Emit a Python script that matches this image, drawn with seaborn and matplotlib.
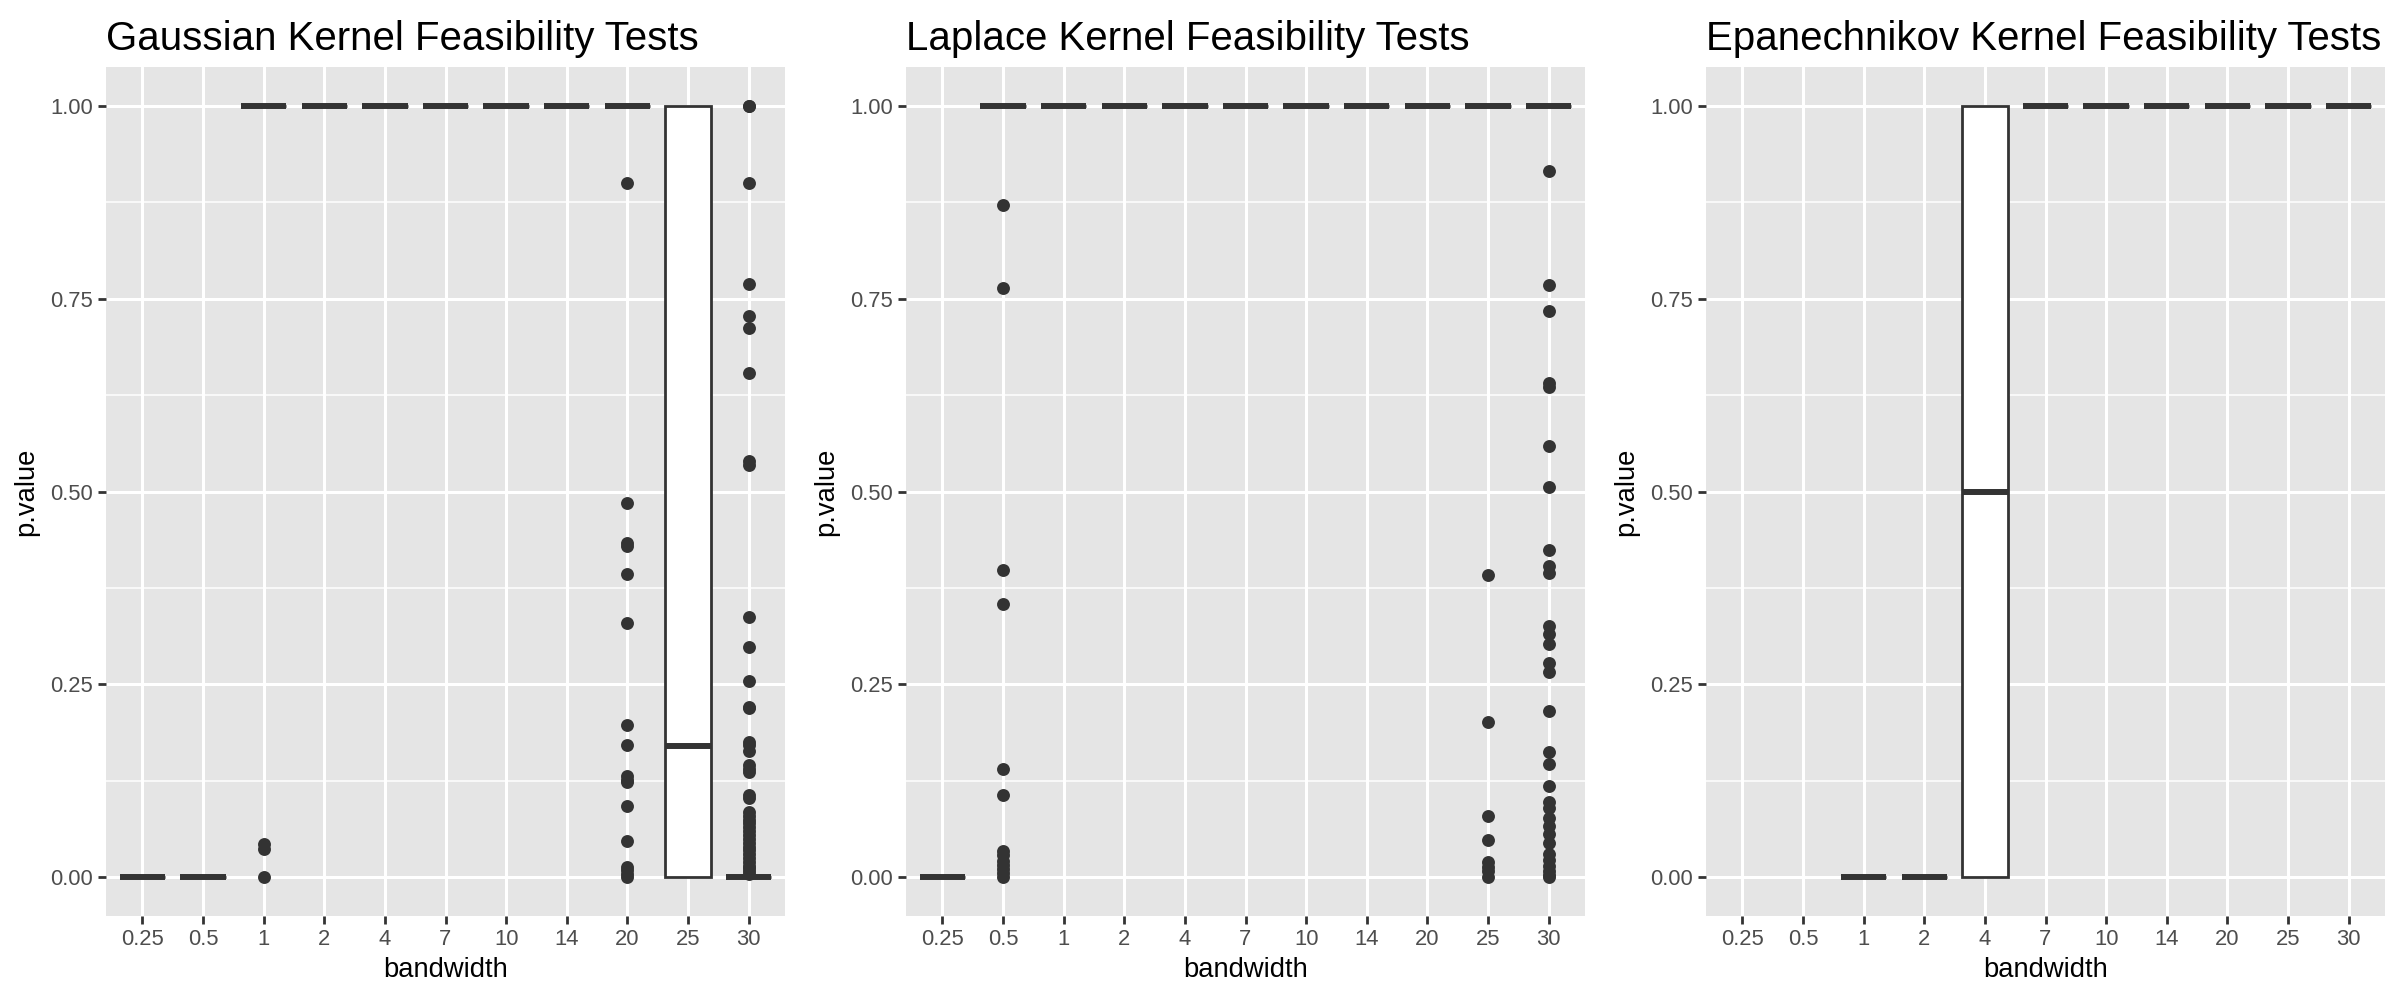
import numpy as np
import pandas as pd
import matplotlib
matplotlib.use("Agg")
import matplotlib.pyplot as plt
import seaborn as sns

# bandwidth levels (shared by all three kernels)
bandwidths = ["0.25", "0.5", "1", "2", "4", "7", "10", "14", "20", "25", "30"]
n_bulk = 150  # runs per bandwidth that sit on the typical p-value

# Gaussian kernel: value where most runs land (None = spread box)
gauss_bulk = [0.0, 0.0, 1.0, 1.0, 1.0, 1.0, 1.0, 1.0, 1.0, None, 0.0]
gauss_out_1 = [0.0, 0.037, 0.043]
gauss_out_20 = [0.900, 0.485, 0.433, 0.429, 0.393, 0.330, 0.198, 0.171, 0.131,
                0.126, 0.123, 0.092, 0.047, 0.014, 0.010, 0.004, 0.0]
gauss_out_30 = [1.0, 1.0, 0.900, 0.769, 0.727, 0.712, 0.653, 0.539, 0.534, 0.338,
                0.298, 0.254, 0.221, 0.219, 0.176, 0.171, 0.164, 0.146, 0.141, 0.136,
                0.107, 0.103, 0.085, 0.080, 0.075, 0.070, 0.065, 0.060, 0.055, 0.050,
                0.045, 0.040, 0.035, 0.030, 0.025, 0.020, 0.015, 0.012, 0.008, 0.005]
gauss_spread_25 = [0.0] * 6 + [0.17] + [1.0] * 6

# Laplace kernel
laplace_bulk = [0.0, 1.0, 1.0, 1.0, 1.0, 1.0, 1.0, 1.0, 1.0, 1.0, 1.0]
laplace_out_05 = [0.871, 0.764, 0.398, 0.354, 0.141, 0.107, 0.034, 0.029, 0.021,
                  0.016, 0.011, 0.006, 0.0]
laplace_out_25 = [0.392, 0.201, 0.079, 0.049, 0.020, 0.013, 0.008, 0.0]
laplace_out_30 = [0.915, 0.767, 0.734, 0.641, 0.635, 0.559, 0.506, 0.424, 0.404,
                  0.395, 0.326, 0.315, 0.303, 0.278, 0.266, 0.215, 0.162, 0.147,
                  0.118, 0.098, 0.090, 0.077, 0.066, 0.056, 0.045, 0.030, 0.022,
                  0.015, 0.008, 0.003, 0.0]

# Epanechnikov kernel (no results for 0.25 and 0.5)
epan_bulk = [None, None, 0.0, 0.0, None, 1.0, 1.0, 1.0, 1.0, 1.0, 1.0]
epan_spread_4 = [0.0] * 6 + [1.0] * 6

titles = ["Gaussian Kernel Feasibility Tests",
          "Laplace Kernel Feasibility Tests",
          "Epanechnikov Kernel Feasibility Tests"]


def build(bulk, extra):
    rows = []
    for bw, b in zip(bandwidths, bulk):
        if b is not None:
            rows += [(bw, b)] * n_bulk
        for v in extra.get(bw, []):
            rows.append((bw, v))
    return pd.DataFrame(rows, columns=["bandwidth", "p.value"])


frames = [
    build(gauss_bulk, {"1": gauss_out_1, "20": gauss_out_20, "25": gauss_spread_25,
                       "30": gauss_out_30}),
    build(laplace_bulk, {"0.5": laplace_out_05, "25": laplace_out_25, "30": laplace_out_30}),
    build(epan_bulk, {"4": epan_spread_4}),
]

sns.set_theme(style="darkgrid", rc={
    "axes.facecolor": "#E5E5E5",
    "grid.color": "white",
    "figure.facecolor": "white",
})
plt.rcParams["font.family"] = ["Liberation Sans", "DejaVu Sans"]

fig = plt.figure(figsize=(24, 10), dpi=100)
lefts = [106, 906, 1706]
dark = "#333333"

for left, df, title in zip(lefts, frames, titles):
    ax = fig.add_axes([left / 2400, 84 / 1000, 679 / 2400, 849 / 1000])
    sns.boxplot(data=df, x="bandwidth", y="p.value", order=bandwidths, ax=ax,
                width=0.75, color="white", saturation=1, linecolor=dark, linewidth=2,
                showcaps=False,
                medianprops=dict(linewidth=4.3, color=dark, solid_capstyle="butt"),
                flierprops=dict(marker="o", markersize=9.3, markerfacecolor=dark,
                                markeredgecolor=dark, markeredgewidth=0))
    ax.set_xlim(-0.6, 10.6)
    ax.set_ylim(-0.05, 1.05)
    ax.set_yticks([0, 0.25, 0.5, 0.75, 1.0])
    ax.set_yticklabels(["0.00", "0.25", "0.50", "0.75", "1.00"])
    ax.set_yticks([0.125, 0.375, 0.625, 0.875], minor=True)
    ax.grid(which="major", color="white", linewidth=2.2)
    ax.grid(which="minor", axis="y", color="white", linewidth=1.1)
    ax.set_axisbelow(True)
    ax.tick_params(which="major", length=5.5, width=2, color=dark, pad=4,
                   labelsize=15.8, labelcolor="#4D4D4D", left=True, bottom=True)
    ax.tick_params(which="minor", length=0)
    for s in ax.spines.values():
        s.set_visible(False)
    ax.set_xlabel("bandwidth", fontsize=19.7, color="black", labelpad=5)
    ax.set_ylabel("p.value", fontsize=19.7, color="black", labelpad=8)
    ax.set_title(title, loc="left", fontsize=29, color="black", pad=12)

plt.savefig("out.png", dpi=100)
